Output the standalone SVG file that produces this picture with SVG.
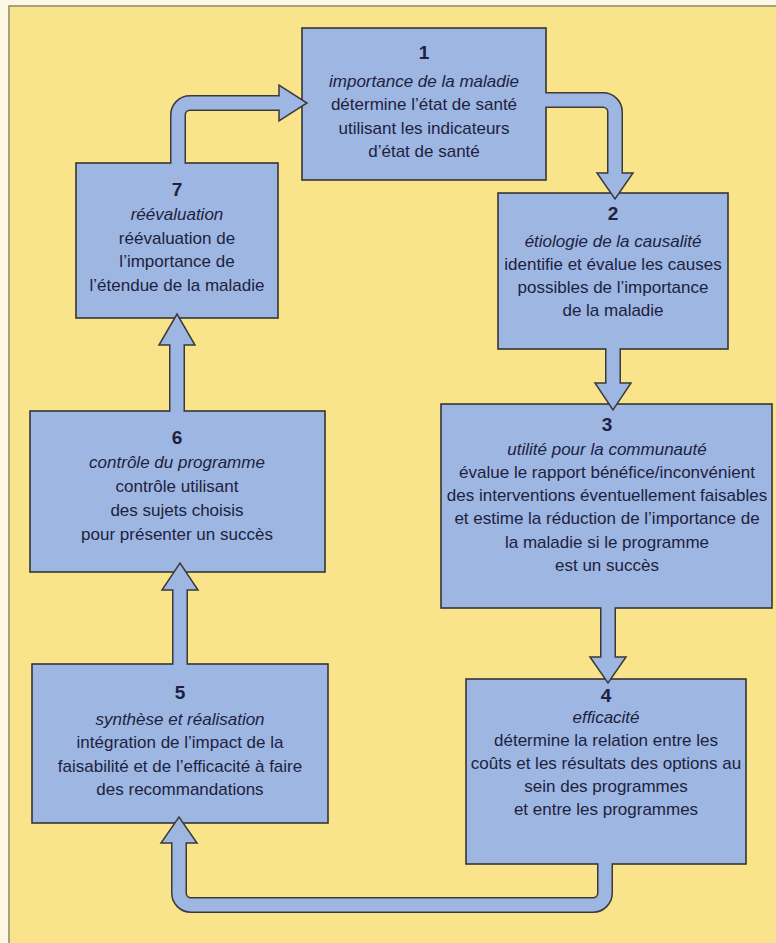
<svg xmlns="http://www.w3.org/2000/svg" width="776" height="943" viewBox="0 0 776 943">
<defs>
<style>
.bg { fill:#f9e38b; }
.frame { fill:none; stroke:#8c8672; stroke-width:1.5; }
.box { fill:#9db6e2; stroke:#353535; stroke-width:1.6; }
.sho { fill:none; stroke:#3a3a3a; stroke-width:16; }
.shi { fill:none; stroke:#9db6e2; stroke-width:13; }
.head { fill:#9db6e2; stroke:#3a3a3a; stroke-width:1.5; stroke-linejoin:miter; }
text { font-family:"Liberation Sans", Arial, sans-serif; font-size:17px; fill:#1e2240; text-anchor:middle; }
.num { font-weight:bold; font-size:19px; }
.it { font-style:italic; }
</style>
</defs>
<rect x="0" y="0" width="776" height="943" fill="#fdf8e4"/>
<rect class="bg" x="9" y="6" width="767" height="937"/>
<path class="frame" d="M9,943 V6 H776"/>

<g id="nodes">
<g id="n1">
<rect class="box" x="302" y="28" width="244" height="152"/>
<text class="num" x="424" y="59">1</text>
<text class="it" x="424" y="87">importance de la maladie</text>
<text x="424" y="110">détermine l’état de santé</text>
<text x="424" y="134">utilisant les indicateurs</text>
<text x="424" y="157">d’état de santé</text>
</g>
<g id="n2">
<rect class="box" x="498" y="193" width="230" height="156"/>
<text class="num" x="613" y="220">2</text>
<text class="it" x="613" y="247">étiologie de la causalité</text>
<text x="613" y="270">identifie et évalue les causes</text>
<text x="613" y="293">possibles de l’importance</text>
<text x="613" y="316">de la maladie</text>
</g>
<g id="n3">
<rect class="box" x="441" y="404" width="331" height="204"/>
<text class="num" x="607" y="431">3</text>
<text class="it" x="607" y="455">utilité pour la communauté</text>
<text x="607" y="478">évalue le rapport bénéfice/inconvénient</text>
<text x="607" y="501">des interventions éventuellement faisables</text>
<text x="607" y="524">et estime la réduction de l’importance de</text>
<text x="607" y="548">la maladie si le programme</text>
<text x="607" y="571">est un succès</text>
</g>
<g id="n4">
<rect class="box" x="466" y="679" width="280" height="185"/>
<text class="num" x="606" y="702">4</text>
<text class="it" x="606" y="723">efficacité</text>
<text x="606" y="746">détermine la relation entre les</text>
<text x="606" y="769">coûts et les résultats des options au</text>
<text x="606" y="792">sein des programmes</text>
<text x="606" y="815">et entre les programmes</text>
</g>
<g id="n5">
<rect class="box" x="32" y="664" width="296" height="159"/>
<text class="num" x="180" y="699">5</text>
<text class="it" x="180" y="725">synthèse et réalisation</text>
<text x="180" y="748">intégration de l’impact de la</text>
<text x="180" y="772">faisabilité et de l’efficacité à faire</text>
<text x="180" y="795">des recommandations</text>
</g>
<g id="n6">
<rect class="box" x="30" y="411" width="295" height="161"/>
<text class="num" x="177" y="444">6</text>
<text class="it" x="177" y="468">contrôle du programme</text>
<text x="177" y="492">contrôle utilisant</text>
<text x="177" y="516">des sujets choisis</text>
<text x="177" y="540">pour présenter un succès</text>
</g>
<g id="n7">
<rect class="box" x="76" y="163" width="202" height="155"/>
<text class="num" x="177" y="196">7</text>
<text class="it" x="177" y="220">réévaluation</text>
<text x="177" y="244">réévaluation de</text>
<text x="177" y="267">l’importance de</text>
<text x="177" y="291">l’étendue de la maladie</text>
</g>
</g>

<g id="connectors">
<!-- 1 -> 2 -->
<path class="sho" d="M546,100 H603 A12,12 0 0 1 615,112 V173"/>
<polygon class="head" points="597,173 633,173 615,199"/>
<path class="shi" d="M544,100 H603 A12,12 0 0 1 615,112 V175"/>
<!-- 2 -> 3 -->
<path class="sho" d="M613,349 V383"/>
<polygon class="head" points="595,383 631,383 613,410"/>
<path class="shi" d="M613,347 V385"/>
<!-- 3 -> 4 -->
<path class="sho" d="M608,608 V657"/>
<polygon class="head" points="590,657 626,657 608,683"/>
<path class="shi" d="M608,606 V659"/>
<!-- 4 -> 5 -->
<path class="sho" d="M605,864 V893 A12,12 0 0 1 593,905 H191 A12,12 0 0 1 179,893 V843"/>
<polygon class="head" points="161,843 197,843 179,817"/>
<path class="shi" d="M605,862 V893 A12,12 0 0 1 593,905 H191 A12,12 0 0 1 179,893 V841"/>
<!-- 5 -> 6 -->
<path class="sho" d="M180,664 V590"/>
<polygon class="head" points="162,590 198,590 180,563"/>
<path class="shi" d="M180,666 V588"/>
<!-- 6 -> 7 -->
<path class="sho" d="M177,411 V345"/>
<polygon class="head" points="159,345 195,345 177,314"/>
<path class="shi" d="M177,413 V343"/>
<!-- 7 -> 1 -->
<path class="sho" d="M178,163 V115 A12,12 0 0 1 190,103 H279"/>
<polygon class="head" points="279,85 279,121 307,103"/>
<path class="shi" d="M178,165 V115 A12,12 0 0 1 190,103 H281"/>
</g>
</svg>
